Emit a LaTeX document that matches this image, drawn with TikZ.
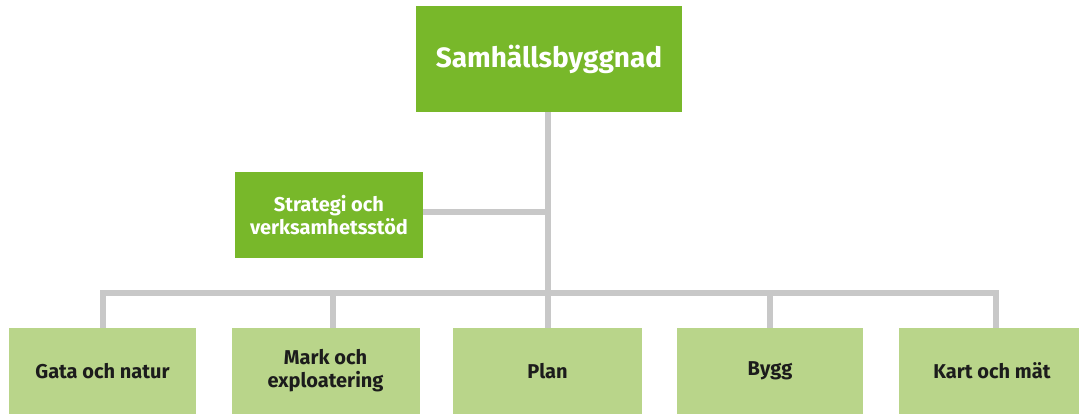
\documentclass[tikz,border=0pt]{standalone}
\usepackage{fontspec}
\setmainfont{Fira Sans}
\definecolor{darkgreen}{HTML}{78B82A}
\definecolor{lightgreen}{HTML}{B9D58A}
\definecolor{linegray}{HTML}{C8C8C8}
\definecolor{textdark}{HTML}{1C1C1C}
\begin{document}
\begin{tikzpicture}[x=1pt,y=-1pt,
    unit/.style={inner sep=0pt, align=center, font=\fontsize{20}{23}\selectfont\bfseries},
    head/.style={unit, fill=darkgreen, text=white},
    dept/.style={unit, fill=lightgreen, text=textdark, minimum height=86pt},
    conn/.style={draw=linegray, line width=6pt}]
  \useasboundingbox (0,0) rectangle (1079,414);
  \clip (0,0) rectangle (1079,414);

  \node[head, minimum width=266pt, minimum height=106pt,
        font=\fontsize{28}{32}\selectfont\bfseries] (top) at (549,59) {Samhällsbyggnad};
  \node[head, minimum width=188pt, minimum height=86pt] (strat) at (329,215) {Strategi och\\verksamhetsstöd};

  \node[dept, minimum width=187pt] (gata) at (102.5,371) {Gata och natur};
  \node[dept, minimum width=188pt] (mark) at (325.5,371) {Mark och\\exploatering};
  \node[dept, minimum width=189pt] (plan) at (547.5,371) {Plan};
  \node[dept, minimum width=186pt] (bygg) at (770,371) {Bygg};
  \node[dept, minimum width=187pt] (kart) at (992,371) {Kart och mät};

  \coordinate (bus) at (548,293);

  % connectors
  \draw[conn] ([xshift=-1pt]top.south) -- ([xshift=-1pt]top.south |- bus);
  \draw[conn] ([yshift=3pt]strat.east) -- ([yshift=3pt]strat.east -| bus);
  \draw[conn] (gata.north) |- (bus) -| ([xshift=4pt]kart.north);
  \draw[conn] ([xshift=7.5pt]mark.north) -- ([xshift=7.5pt]mark.north |- bus);
  \foreach \d in {plan,bygg}
    \draw[conn] (\d.north) -- (\d.north |- bus);
\end{tikzpicture}
\end{document}
